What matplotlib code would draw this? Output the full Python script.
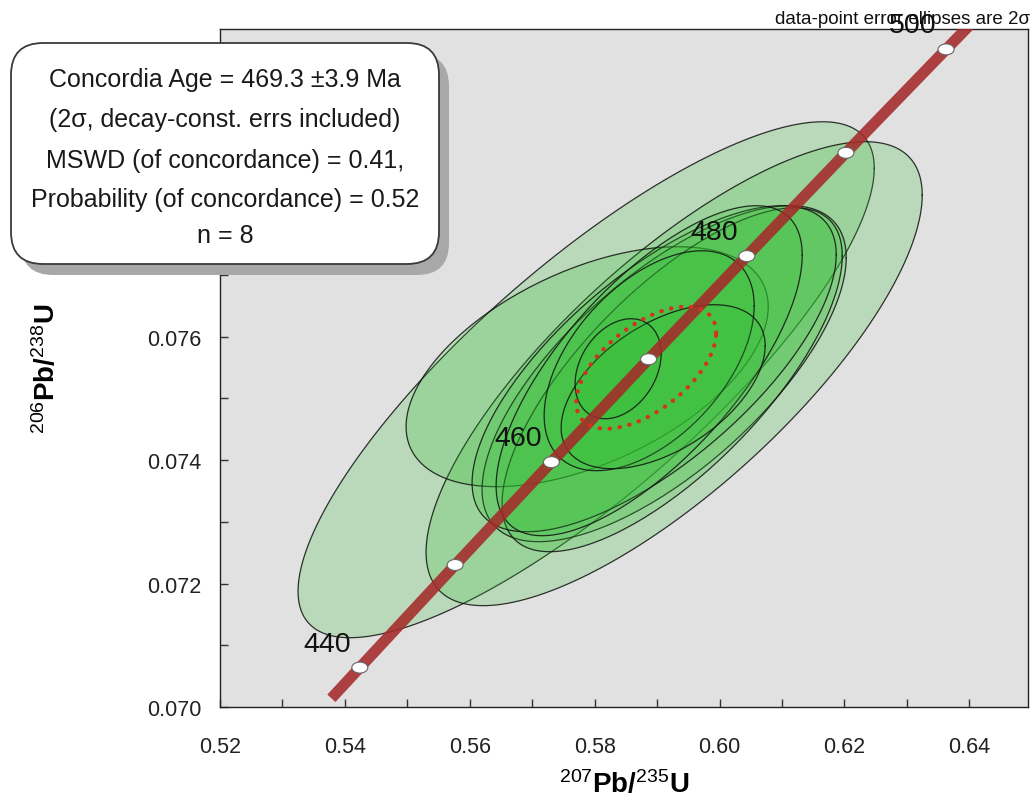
import numpy as np
import matplotlib
matplotlib.use("Agg")
import matplotlib.pyplot as plt
from matplotlib.patches import FancyBboxPatch, Ellipse
from matplotlib.transforms import IdentityTransform
from matplotlib.ticker import MultipleLocator, FormatStrFormatter, FuncFormatter

plt.rcParams['font.family'] = ['Liberation Sans', 'DejaVu Sans']
plt.rcParams['mathtext.fontset'] = 'custom'
plt.rcParams['mathtext.rm'] = 'Liberation Sans'
plt.rcParams['mathtext.bf'] = 'Liberation Sans:bold'
plt.rcParams['mathtext.it'] = 'Liberation Sans:italic'

# concordia curve, read at its age ticks (Ma)
conc_age = [437, 440, 450, 460, 470, 480, 490, 500, 510]
conc_x = [0.53784, 0.54239, 0.55766, 0.57307, 0.58864, 0.60437, 0.62024, 0.63628, 0.65247]
conc_y = [0.070141, 0.070638, 0.072300, 0.073965, 0.075632, 0.077302, 0.078975, 0.080650, 0.082327]
tick_ages = [440, 450, 460, 470, 480, 490, 500]
label_ages = [440, 460, 480, 500]

# data-point error ellipses (2 sigma)
ell_x = [0.57864, 0.59273, 0.57880, 0.59113, 0.59241, 0.58953, 0.58873, 0.58873, 0.59097, 0.58376]
ell_x2s = [0.04614, 0.03973, 0.02900, 0.02916, 0.02724, 0.02916, 0.02451, 0.01682, 0.01634, 0.00689]
ell_y = [0.075300, 0.075398, 0.075511, 0.075398, 0.075300, 0.075478, 0.075446, 0.075608, 0.075187, 0.075478]
ell_y2s = [0.004178, 0.003757, 0.001943, 0.002721, 0.002785, 0.002640, 0.002672, 0.001781, 0.001328, 0.000810]
ell_rho = [0.82, 0.77, 0.50, 0.69, 0.72, 0.70, 0.70, 0.50, 0.50, 0.30]

# concordia age ellipse
age_x, age_x2s = 0.58825, 0.01121
age_y, age_y2s = 0.075495, 0.000988
age_rho = 0.57

box_lines = ["Concordia Age = 469.3 \u00b13.9 Ma",
             "(2\u03c3, decay-const. errs included)",
             "MSWD (of concordance) = 0.41,",
             "Probability (of concordance) = 0.52",
             "n = 8"]


def ellipse_xy(x, x2s, y, y2s, rho, n=200):
    t = np.linspace(0, 2 * np.pi, n)
    xs = x + x2s * np.cos(t)
    ys = y + y2s * (rho * np.cos(t) + np.sqrt(1 - rho ** 2) * np.sin(t))
    return xs, ys


W, H = 1032, 803
fig = plt.figure(figsize=(W / 100, H / 100), dpi=100)
ax = fig.add_axes([220 / W, (H - 708) / H, 808 / W, 678 / H])
ax.set_facecolor('#e1e1e1')

for i in range(len(ell_x)):
    xs, ys = ellipse_xy(ell_x[i], ell_x2s[i], ell_y[i], ell_y2s[i], ell_rho[i])
    ax.fill(xs, ys, facecolor='#32c032', alpha=0.22, edgecolor='none', zorder=2)
    ax.plot(xs, ys, color='#111111', lw=0.9, alpha=0.85, zorder=2)

ax.plot(conc_x, conc_y, color='#a52a2a', lw=8, alpha=0.88,
        solid_capstyle='butt', zorder=3)

xs, ys = ellipse_xy(age_x, age_x2s, age_y, age_y2s, age_rho)
ax.plot(xs, ys, color='#d8301e', lw=3, linestyle=(0, (0.1, 2.3)),
        dash_capstyle='round', zorder=4)

for a in tick_ages:
    k = conc_age.index(a)
    ax.add_patch(Ellipse((conc_x[k], conc_y[k]), 0.00256, 0.000178,
                         facecolor='white', edgecolor='#666666', lw=0.8, zorder=5))
    if a in label_ages:
        ax.annotate(str(a), (conc_x[k], conc_y[k]), xytext=(-33, 24),
                    textcoords='offset pixels', ha='center', va='center',
                    fontsize=20.5, color='#111111', annotation_clip=False,
                    clip_on=False, zorder=6)

ax.set_xlim(0.52, 0.6494)
ax.set_ylim(0.070, 0.08098)
ax.xaxis.set_major_locator(MultipleLocator(0.02))
ax.xaxis.set_minor_locator(MultipleLocator(0.01))
ax.xaxis.set_major_formatter(FormatStrFormatter('%.2f'))
ax.yaxis.set_major_locator(MultipleLocator(0.002))
ax.yaxis.set_minor_locator(MultipleLocator(0.001))
# labels above 0.076 sit under the result box, so leave them blank
ax.yaxis.set_major_formatter(FuncFormatter(lambda v, p: '%.3f' % v if v < 0.0765 else ''))
ax.tick_params(which='both', direction='in', length=6, width=1, color='#333333',
               labelsize=15.5, labelcolor='#222222')
ax.tick_params(axis='x', pad=21)
ax.tick_params(axis='y', pad=13.5)
for s in ax.spines.values():
    s.set_linewidth(1.0)
    s.set_color('#222222')

ax.set_xlabel(r'$^{207}\mathbf{Pb/}^{235}\mathbf{U}$', fontsize=20, va='center')
ax.xaxis.set_label_coords(0.5, (708 - 785) / 678)
ax.set_ylabel(r'$^{206}\mathbf{Pb/}^{238}\mathbf{U}$', fontsize=20, va='center')
ax.yaxis.set_label_coords((47 - 220) / 808, 0.5)

fig.text(1030 / W, 1 - 20 / H, "data-point error ellipses are 2\u03c3",
         ha='right', va='center', fontsize=13.5, color='#111111')

# result box with drop shadow
shadow = FancyBboxPatch((21, H - 276), 428, 221,
                        boxstyle="round,pad=0,rounding_size=32",
                        transform=IdentityTransform(), fc='#a8a8a8', ec='none', zorder=9)
fig.add_artist(shadow)
box = FancyBboxPatch((11, H - 265), 428, 221,
                     boxstyle="round,pad=0,rounding_size=32",
                     transform=IdentityTransform(), fc='white', ec='#3a3a3a',
                     lw=1.3, zorder=10)
fig.add_artist(box)
for line, yy in zip(box_lines, [80, 120, 161, 200, 236]):
    fig.text(225 / W, 1 - yy / H, line, ha='center', va='center',
             fontsize=18, color='#1a1a1a', zorder=11)

fig.savefig("out.png", dpi=100)
